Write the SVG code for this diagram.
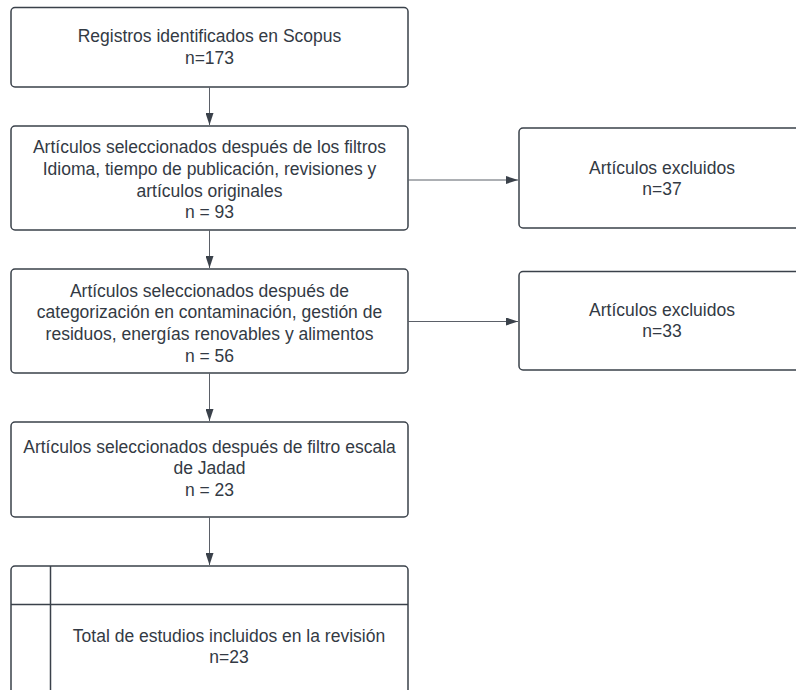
<svg xmlns="http://www.w3.org/2000/svg" width="796" height="690" viewBox="0 0 796 690">
<style>
.box{fill:#ffffff;stroke:#3a414a;stroke-width:1.5}
.t{font-family:"Liberation Sans",Arial,sans-serif;font-size:17.5px;fill:#333a44;text-anchor:middle}
.c{stroke:#5b6068;stroke-width:1;fill:none}
</style>
<defs>
<marker id="ah" viewBox="0 0 12 8" refX="12" refY="4" markerWidth="12" markerHeight="8" markerUnits="userSpaceOnUse" orient="auto">
<path d="M0,0 L12,4 L0,8 Z" fill="#3a414a"/>
</marker>
</defs>
<rect width="796" height="690" fill="#ffffff"/>
<g id="n1">
<rect class="box" x="11" y="7.5" width="397" height="79.5" rx="4"/>
<text class="t" x="209.5" y="42">Registros identificados en Scopus</text>
<text class="t" x="209.5" y="63.5">n=173</text>
</g>
<g id="n2">
<rect class="box" x="11" y="126" width="397" height="104" rx="4"/>
<text class="t" x="209.5" y="153">Artículos seleccionados después de los filtros</text>
<text class="t" x="209.5" y="175">Idioma, tiempo de publicación, revisiones y</text>
<text class="t" x="209.5" y="196.5">artículos originales</text>
<text class="t" x="209.5" y="218">n = 93</text>
</g>
<g id="n3">
<rect class="box" x="11" y="269" width="397" height="104" rx="4"/>
<text class="t" x="209.5" y="296.5">Artículos seleccionados después de</text>
<text class="t" x="209.5" y="318">categorización en contaminación, gestión de</text>
<text class="t" x="209.5" y="340">residuos, energías renovables y alimentos</text>
<text class="t" x="209.5" y="361.5">n = 56</text>
</g>
<g id="n4">
<rect class="box" x="11" y="422" width="397" height="95" rx="4"/>
<text class="t" x="209.5" y="452.5">Artículos seleccionados después de filtro escala</text>
<text class="t" x="209.5" y="474">de Jadad</text>
<text class="t" x="209.5" y="495.5">n = 23</text>
</g>
<g id="n5">
<rect class="box" x="11" y="566" width="397" height="140" rx="4"/>
<line class="box" x1="50.5" y1="566" x2="50.5" y2="690"/>
<line class="box" x1="11" y1="604.5" x2="408" y2="604.5"/>
<text class="t" x="229" y="641.5">Total de estudios incluidos en la revisión</text>
<text class="t" x="229" y="663">n=23</text>
</g>
<g id="n6">
<rect class="box" x="519" y="128" width="290" height="100" rx="4"/>
<text class="t" x="662" y="173.5">Artículos excluidos</text>
<text class="t" x="662" y="194.5">n=37</text>
</g>
<g id="n7">
<rect class="box" x="519" y="271.5" width="290" height="98.5" rx="4"/>
<text class="t" x="662" y="315.5">Artículos excluidos</text>
<text class="t" x="662" y="336.5">n=33</text>
</g>
<g id="connectors">
<line class="c" x1="209.5" y1="87" x2="209.5" y2="125" marker-end="url(#ah)"/>
<line class="c" x1="209.5" y1="230" x2="209.5" y2="268" marker-end="url(#ah)"/>
<line class="c" x1="209.5" y1="373" x2="209.5" y2="421" marker-end="url(#ah)"/>
<line class="c" x1="209.5" y1="517" x2="209.5" y2="565" marker-end="url(#ah)"/>
<line class="c" x1="408" y1="180" x2="518" y2="180" marker-end="url(#ah)"/>
<line class="c" x1="408" y1="321.5" x2="518" y2="321.5" marker-end="url(#ah)"/>
</g>
</svg>
